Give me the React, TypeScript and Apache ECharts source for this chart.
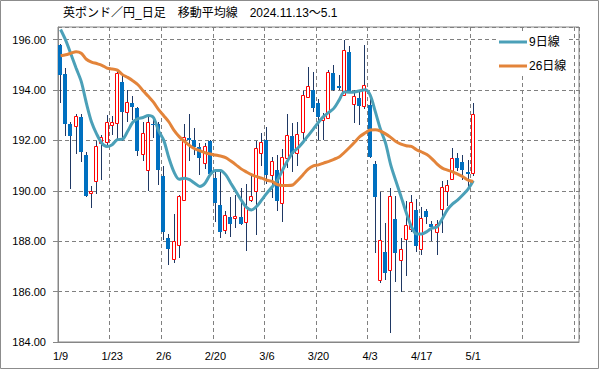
import React, { useEffect, useRef } from 'react';
import * as echarts from 'echarts';

const dates = [
  '1/9', '1/10', '1/13', '1/14', '1/15', '1/16', '1/17', '1/20', '1/21', '1/22',
  '1/23', '1/24', '1/27', '1/28', '1/29', '1/30', '1/31', '2/3', '2/4', '2/5',
  '2/6', '2/7', '2/10', '2/11', '2/12', '2/13', '2/14', '2/17', '2/18', '2/19',
  '2/20', '2/21', '2/24', '2/25', '2/26', '2/27', '2/28', '3/3', '3/4', '3/5',
  '3/6', '3/7', '3/10', '3/11', '3/12', '3/13', '3/14', '3/17', '3/18', '3/19',
  '3/20', '3/21', '3/24', '3/25', '3/26', '3/27', '3/28', '3/31', '4/1', '4/2',
  '4/3', '4/4', '4/7', '4/8', '4/9', '4/10', '4/11', '4/14', '4/15', '4/16',
  '4/17', '4/18', '4/21', '4/22', '4/23', '4/24', '4/25', '4/28', '4/29', '4/30',
  '5/1',
];
const emptySlots: string[] = Array(20).fill('');

const openValues = [
  195.78, 194.64, 192.66, 192.56, 192.93, 191.43, 189.91, 190.37, 191.89, 191.93,
  192.60, 192.68, 194.32, 193.13, 193.48, 193.28, 191.46, 190.81, 192.66, 192.65,
  190.57, 188.12, 187.28, 187.83, 189.62, 192.09, 192.03, 191.74, 191.10, 191.99,
  190.50, 189.44, 188.45, 188.98, 188.91, 188.95, 188.75, 189.62, 190.01, 191.50,
  192.01, 190.61, 190.83, 189.51, 191.30, 192.19, 191.50, 192.33, 193.74, 194.00,
  193.48, 192.82, 192.89, 194.68, 194.17, 193.81, 195.51, 193.46, 193.68, 193.35,
  193.42, 191.07, 186.46, 187.59, 186.86, 188.87, 187.26, 188.08, 188.49, 189.25,
  187.70, 189.21, 188.68, 188.38, 189.28, 190.00, 190.48, 191.30, 191.13, 190.74,
  190.70,
];
const closeValues = [
  194.61, 192.65, 192.16, 192.95, 191.52, 189.81, 189.99, 191.76, 192.12, 192.75,
  192.72, 194.68, 193.11, 193.52, 193.31, 191.56, 192.29, 192.73, 192.60, 190.81,
  188.38, 187.70, 188.01, 189.79, 192.13, 192.03, 191.72, 191.30, 191.76, 190.66,
  189.51, 188.36, 189.02, 188.70, 189.01, 188.70, 189.34, 189.81, 191.70, 191.93,
  190.61, 191.19, 189.58, 191.34, 192.23, 191.46, 192.25, 193.79, 194.15, 193.28,
  192.91, 192.91, 194.72, 194.01, 194.08, 195.59, 193.97, 193.76, 193.36, 194.19,
  191.34, 189.77, 188.04, 186.73, 189.81, 187.52, 187.68, 188.65, 189.55, 187.81,
  188.94, 188.97, 188.56, 188.70, 190.17, 190.23, 191.32, 190.90, 190.83, 190.66,
  193.05,
];
const highValues = [
  195.83, 194.87, 192.75, 193.05, 193.05, 191.54, 190.21, 191.99, 192.23, 193.02,
  192.95, 194.74, 194.61, 193.99, 193.75, 193.31, 192.75, 192.95, 192.85, 192.75,
  190.97, 188.28, 189.07, 189.84, 192.65, 193.05, 192.49, 191.89, 191.89, 192.03,
  190.77, 190.77, 189.18, 189.75, 189.84, 190.11, 190.26, 190.61, 191.96, 192.29,
  192.53, 191.36, 191.43, 191.67, 193.05, 192.68, 192.73, 193.95, 194.91, 194.72,
  193.66, 193.07, 194.81, 195.01, 194.61, 196.00, 195.74, 194.01, 193.95, 195.80,
  193.75, 191.17, 189.97, 188.72, 190.11, 189.81, 188.12, 189.58, 189.84, 189.68,
  189.34, 189.27, 188.81, 188.85, 190.37, 190.44, 191.70, 191.50, 191.43, 191.23,
  193.48,
];
const lowValues = [
  193.48, 192.16, 190.07, 191.46, 191.13, 189.77, 189.31, 189.87, 190.44, 191.83,
  192.23, 192.03, 191.96, 192.75, 192.82, 191.40, 191.19, 190.01, 192.09, 190.24,
  188.05, 187.06, 187.13, 187.32, 189.58, 191.17, 191.43, 190.61, 190.87, 190.64,
  188.75, 188.12, 188.28, 188.16, 188.52, 188.65, 187.62, 189.55, 188.23, 190.97,
  190.26, 189.71, 189.18, 188.78, 190.90, 190.73, 190.97, 191.89, 193.71, 193.13,
  192.03, 192.01, 192.86, 193.95, 194.01, 193.79, 193.95, 192.69, 192.62, 193.26,
  191.32, 187.52, 186.33, 186.46, 184.34, 186.37, 186.00, 186.60, 188.36, 187.59,
  187.46, 188.68, 187.99, 187.46, 188.32, 189.38, 190.44, 190.77, 190.44, 190.11,
  190.57,
];
const ma9Values = [
  196.40, 195.97, 195.43, 194.87, 194.34, 193.48, 192.73, 192.25, 191.89, 191.76,
  191.83, 192.03, 192.05, 192.36, 192.72, 192.86, 192.91, 192.99, 192.91, 192.38,
  192.00, 191.30, 190.74, 190.46, 190.50, 190.44, 190.30, 190.17, 190.30, 190.64,
  190.81, 190.81, 190.64, 190.30, 189.97, 189.64, 189.35, 189.24, 189.38, 189.64,
  189.91, 190.15, 190.41, 190.81, 191.19, 191.52, 191.70, 191.93, 192.19, 192.45,
  192.72, 192.95, 193.11, 193.28, 193.60, 193.92, 193.91, 193.92, 193.97, 194.01,
  193.81, 193.15, 192.45, 191.89, 191.03, 190.39, 189.77, 189.14, 188.58, 188.29,
  188.29, 188.38, 188.52, 188.57, 188.89, 189.25, 189.48, 189.64, 189.84, 190.07,
  190.40,
];
const ma26Values = [
  195.36, 195.40, 195.46, 195.52, 195.46, 195.22, 195.11, 195.05, 194.98, 194.87,
  194.83, 194.79, 194.61, 194.50, 194.37, 194.21, 193.97, 193.75, 193.52, 193.22,
  192.98, 192.73, 192.40, 192.15, 191.96, 191.80, 191.67, 191.59, 191.51, 191.46,
  191.42, 191.38, 191.32, 191.18, 191.03, 190.87, 190.75, 190.64, 190.56, 190.50,
  190.42, 190.37, 190.25, 190.21, 190.21, 190.23, 190.42, 190.64, 190.86, 190.99,
  191.03, 191.10, 191.17, 191.25, 191.34, 191.52, 191.72, 191.93, 192.15, 192.29,
  192.41, 192.42, 192.37, 192.26, 192.12, 191.96, 191.85, 191.79, 191.76, 191.63,
  191.54, 191.44, 191.27, 191.06, 190.90, 190.82, 190.75, 190.66, 190.56, 190.42,
  190.37,
];

const titleText = '英ポンド／円_日足　移動平均線　2024.11.13～5.1';
const seriesNames = ['9日線', '26日線'];

const UP_COLOR = '#ff0000';
const DOWN_COLOR = '#0070c0';
const WICK_COLOR = '#1f3864';
const MA9_COLOR = '#4ba0b8';
const MA26_COLOR = '#e3843a';
const AXIS_GRAY = '#868686';
const FONT = "'Liberation Sans', 'Noto Sans CJK JP', sans-serif";

export default function App() {
  const ref = useRef<HTMLDivElement>(null);

  useEffect(() => {
    if (!ref.current) return;
    const chart = echarts.init(ref.current, undefined, { renderer: 'svg' });
    const categories = dates.concat(emptySlots);
    const candleData = dates.map((_, i) => [i, openValues[i], closeValues[i], lowValues[i], highValues[i]]);

    const option: any = {
      animation: false,
      backgroundColor: '#ffffff',
      textStyle: { fontFamily: FONT },
      title: {
        text: titleText,
        left: 63,
        top: 7,
        padding: 0,
        textStyle: { fontSize: 12, fontWeight: 'normal', color: '#000', fontFamily: FONT },
      },
      legend: {
        data: seriesNames,
        orient: 'vertical',
        left: 499,
        top: 34,
        padding: [2, 2, 2, 0],
        itemGap: 12,
        itemWidth: 28,
        itemHeight: 3,
        icon: 'rect',
        backgroundColor: '#ffffff',
        textStyle: { fontSize: 12, color: '#000', fontFamily: FONT, padding: [0, 0, 0, -3] },
      },
      graphic: [
        {
          type: 'rect',
          silent: true,
          z: -1,
          shape: { x: 0.5, y: 0.5, width: 598, height: 368 },
          style: { fill: 'none', stroke: '#8c8c8c', lineWidth: 1 },
        },
      ],
      grid: {
        left: 58,
        right: 20,
        top: 27,
        bottom: 27,
        show: true,
        borderColor: AXIS_GRAY,
        borderWidth: 1,
        backgroundColor: 'transparent',
      },
      xAxis: {
        type: 'category',
        data: categories,
        boundaryGap: true,
        axisLine: { lineStyle: { color: AXIS_GRAY } },
        axisTick: { interval: 9, length: 5, lineStyle: { color: AXIS_GRAY } },
        axisLabel: { interval: 9, fontSize: 11, color: '#000', margin: 8, fontFamily: FONT },
        splitLine: { show: true, interval: 9, lineStyle: { color: '#808080', type: [4, 3], width: 1 } },
      },
      yAxis: {
        type: 'value',
        min: 184,
        max: 196.5,
        interval: 2,
        axisLine: { show: true, lineStyle: { color: AXIS_GRAY } },
        axisTick: { show: true, length: 5, lineStyle: { color: AXIS_GRAY } },
        axisLabel: {
          fontSize: 11,
          color: '#000',
          margin: 12,
          showMaxLabel: false,
          fontFamily: FONT,
          formatter: (v: number) => v.toFixed(2),
        },
        splitLine: { show: true, lineStyle: { color: '#808080', type: [4, 3], width: 1 } },
      },
      series: [
        {
          type: 'custom',
          name: 'candles',
          data: candleData,
          encode: { x: 0, y: [1, 2, 3, 4] },
          clip: true,
          z: 2,
          renderItem: (params: any, api: any) => {
            const i = api.value(0);
            const o = api.value(1);
            const c = api.value(2);
            const l = api.value(3);
            const h = api.value(4);
            const pO = api.coord([i, o]);
            const pC = api.coord([i, c]);
            const pL = api.coord([i, l]);
            const pH = api.coord([i, h]);
            const cx = Math.floor(pO[0]);
            const up = c >= o;
            const top = Math.round(Math.min(pO[1], pC[1]));
            const bot = Math.round(Math.max(pO[1], pC[1]));
            const children: any[] = [
              {
                type: 'line',
                shape: { x1: cx + 0.5, y1: Math.round(pH[1]), x2: cx + 0.5, y2: Math.round(pL[1]) },
                style: { stroke: WICK_COLOR, lineWidth: 1 },
              },
            ];
            if (up) {
              children.push({
                type: 'rect',
                shape: { x: cx - 1.5, y: top + 0.5, width: 3, height: Math.max(1, bot - top) },
                style: { fill: '#ffffff', stroke: UP_COLOR, lineWidth: 1 },
              });
            } else {
              children.push({
                type: 'rect',
                shape: { x: cx - 2, y: top, width: 4, height: Math.max(1, bot - top) },
                style: { fill: DOWN_COLOR },
              });
            }
            return { type: 'group', children };
          },
        },
        {
          type: 'line',
          name: seriesNames[0],
          data: ma9Values,
          showSymbol: false,
          smooth: 0.3,
          z: 3,
          color: MA9_COLOR,
          lineStyle: { color: MA9_COLOR, width: 3 },
        },
        {
          type: 'line',
          name: seriesNames[1],
          data: ma26Values,
          showSymbol: false,
          smooth: 0.3,
          z: 3,
          color: MA26_COLOR,
          lineStyle: { color: MA26_COLOR, width: 3 },
        },
      ],
    };

    chart.setOption(option);
    return () => chart.dispose();
  }, []);

  return (
    <div
      ref={ref}
      style={{ position: 'absolute', left: 0, top: 0, width: 599, height: 369 }}
    />
  );
}
